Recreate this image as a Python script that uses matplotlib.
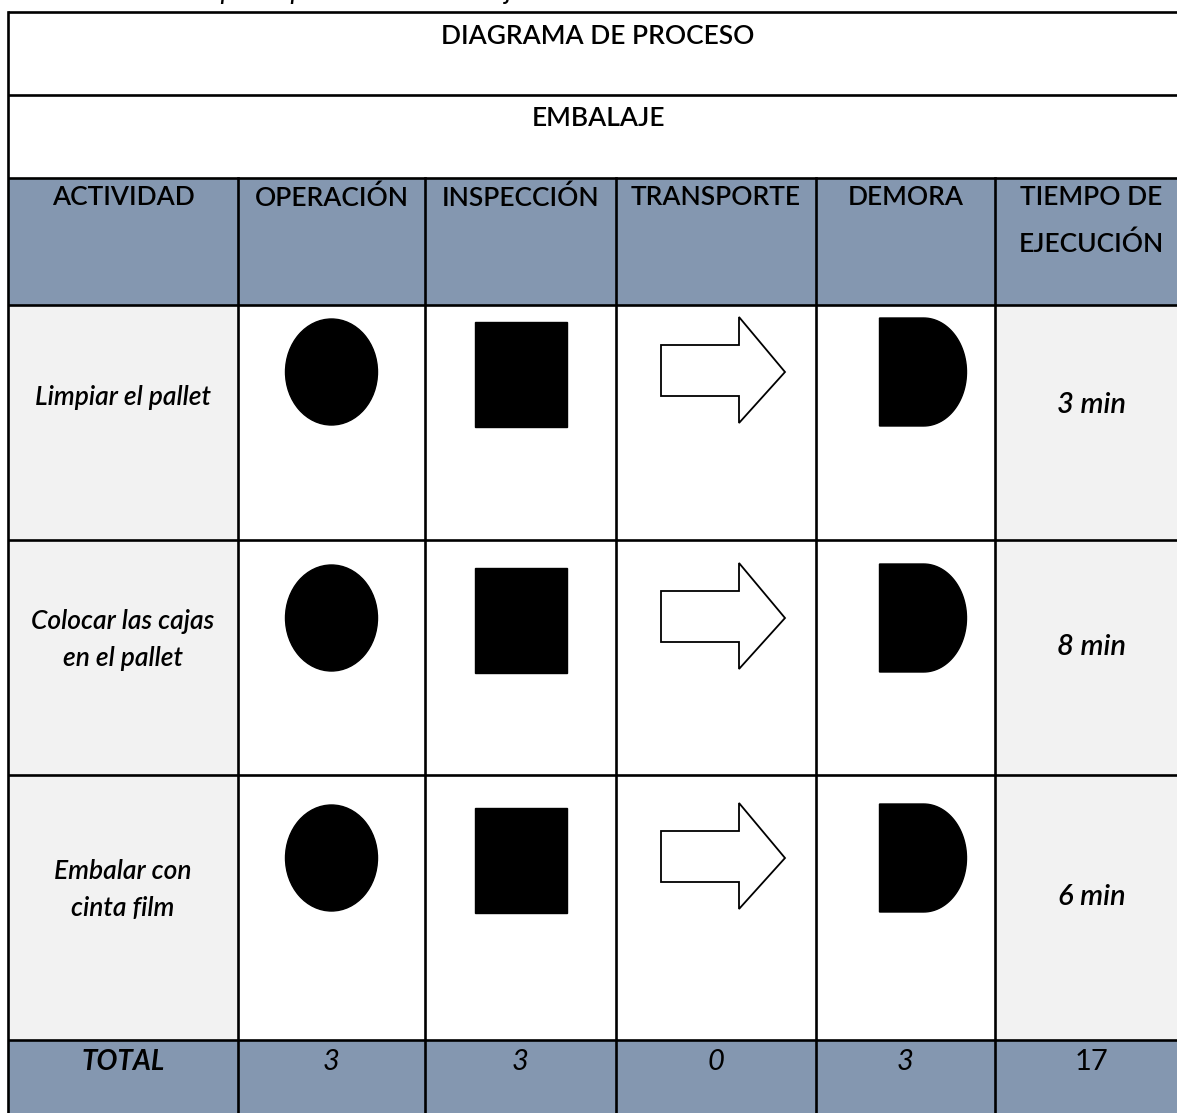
import numpy as np
import matplotlib
matplotlib.use("Agg")
import matplotlib.pyplot as plt
from matplotlib.patches import Rectangle, Ellipse, Polygon

# ---- data ----
caption = "Tiempo de proceso de embalaje"
title = "DIAGRAMA DE PROCESO"
subtitle = "EMBALAJE"
headers = ["ACTIVIDAD", "OPERACIÓN", "INSPECCIÓN", "TRANSPORTE", "DEMORA", "TIEMPO DE\nEJECUCIÓN"]
activities = ["Limpiar el pallet", "Colocar las cajas\nen el pallet", "Embalar con\ncinta film"]
times = ["3 min", "8 min", "6 min"]
total_label = "TOTAL"
totals = ["3", "3", "0", "3", "17"]

# ---- layout (pixels) ----
W, H = 1177, 1113
col_edges = [8, 238, 425, 616, 816, 995, 1188]
row_edges = [12, 95, 178, 305, 540, 775, 1040, 1125]
HEAD = "#8497B0"
LIGHT = "#F2F2F2"
FONT = "Lato"
WT = "semibold"

fig = plt.figure(figsize=(W / 100, H / 100), dpi=100)
ax = fig.add_axes([0, 0, 1, 1])
ax.set_xlim(0, W)
ax.set_ylim(H, 0)
ax.axis("off")

ncol = len(headers)
cx = [(col_edges[i] + col_edges[i + 1]) / 2 for i in range(ncol)]
left, right = col_edges[0], col_edges[-1]
tx = (left + right) / 2

# backgrounds
ax.add_patch(Rectangle((left, row_edges[2]), right - left, row_edges[3] - row_edges[2], fc=HEAD, ec="none"))
ax.add_patch(Rectangle((left, row_edges[6]), right - left, row_edges[7] - row_edges[6], fc=HEAD, ec="none"))
for r in range(3):
    y0, y1 = row_edges[3 + r], row_edges[4 + r]
    for c in (0, ncol - 1):
        ax.add_patch(Rectangle((col_edges[c], y0), col_edges[c + 1] - col_edges[c], y1 - y0, fc=LIGHT, ec="none"))

# grid lines
lw = 1.9
for y in row_edges[:-1]:
    ax.plot([left, right], [y, y], color="black", lw=lw, solid_capstyle="butt")
for i, x in enumerate(col_edges):
    y_start = row_edges[0] if i in (0, len(col_edges) - 1) else row_edges[2]
    ax.plot([x, x], [y_start, H + 10], color="black", lw=lw)

# caption (cut off at top, as in the source image)
ax.text(345, 4, caption, ha="center", va="bottom", fontsize=20, style="italic",
        family=FONT, clip_on=False)

# title rows
ax.text(tx, 37, title, ha="center", va="center", fontsize=19, family=FONT, weight=WT)
ax.text(tx, 119, subtitle, ha="center", va="center", fontsize=19, family=FONT, weight=WT)

# header
for i, h in enumerate(headers):
    ax.text(cx[i], 185, h, ha="center", va="top", fontsize=19, family=FONT, weight=WT,
            linespacing=2.05)

# body rows
shape_dy = [67, 78, 83]
text_dy = [93, 100, 115]
for r in range(3):
    y0, y1 = row_edges[3 + r], row_edges[4 + r]
    ax.text(cx[0], y0 + text_dy[r], activities[r], ha="center", va="center", fontsize=19,
            style="italic", family=FONT, weight=WT, linespacing=1.6)
    ax.text(cx[-1], y0 + text_dy[r] + 7, times[r], ha="center", va="center", fontsize=21,
            style="italic", family=FONT, weight=WT)
    yc = y0 + shape_dy[r]
    # operation: ellipse
    ax.add_patch(Ellipse((cx[1], yc), 92, 106, fc="black", ec="black"))
    # inspection: rectangle
    ax.add_patch(Rectangle((cx[2] - 46, yc - 50), 92, 105, fc="black", ec="black"))
    # transport: outlined arrow
    ax0 = cx[3] - 55
    arrow = [(ax0, yc - 27), (ax0 + 78, yc - 27), (ax0 + 78, yc - 55), (ax0 + 124, yc),
             (ax0 + 78, yc + 51), (ax0 + 78, yc + 24), (ax0, yc + 24)]
    ax.add_patch(Polygon(arrow, closed=True, fc="white", ec="black", lw=1.3))
    # delay: D shape
    dx0 = cx[4] - 26
    flat = 44
    rx, ry = 43, 54
    t = np.linspace(-np.pi / 2, np.pi / 2, 60)
    dpts = [(dx0, yc - ry)] + [(dx0 + flat + rx * np.cos(a), yc + ry * np.sin(a)) for a in t] + [(dx0, yc + ry)]
    ax.add_patch(Polygon(dpts, closed=True, fc="black", ec="black"))

# total row
ty = 1062
ax.text(cx[0], ty, total_label, ha="center", va="center", fontsize=20, style="italic",
        weight="bold", family=FONT)
for i, v in enumerate(totals):
    ax.text(cx[i + 1], ty, v, ha="center", va="center", fontsize=21,
            style="normal" if i == len(totals) - 1 else "italic", family=FONT)

fig.savefig("out.png", dpi=100)
